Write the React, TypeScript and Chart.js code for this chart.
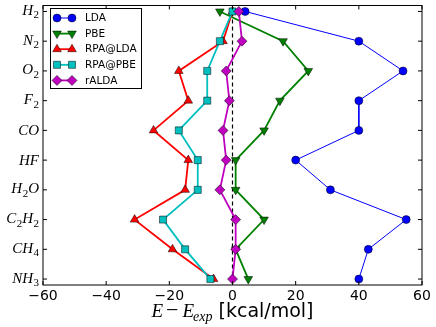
import React, { useEffect, useRef } from 'react';
import { Chart, registerables } from 'chart.js';
import { drawPoint } from 'chart.js/helpers';

Chart.register(...registerables);

const molecules = ['H₂', 'N₂', 'O₂', 'F₂', 'CO', 'HF', 'H₂O', 'C₂H₂', 'CH₄', 'NH₃'];
const seriesNames = ['LDA', 'PBE', 'RPA@LDA', 'RPA@PBE', 'rALDA'];
const lda = [4, 40, 54, 40, 40, 20, 31, 55, 43, 40];
const pbe = [-4, 16, 24, 15, 10, 1, 1, 10, 1, 5];
const rpaLda = [0, -3, -17, -14, -25, -14, -15, -31, -19, -6];
const rpaPbe = [0, -4, -8, -8, -17, -11, -11, -22, -15, -7];
const ralda = [2, 3, -2, -1, -3, -2, -4, 1, 1, 0];
const xTicks = [-60, -40, -20, 0, 20, 40, 60];
const xTitleMath = ['E', '−', 'E'];
const xTitleSub = 'exp';
const xTitleUnit = '[kcal/mol]';

const seriesValues = [lda, pbe, rpaLda, rpaPbe, ralda];
const styles = [
  { color: '#0000ff', shape: 'circle', r: 4, lw: 1, rot: 0 },
  { color: '#008000', shape: 'triangle', r: 5, lw: 1.8, rot: 180 },
  { color: '#ff0000', shape: 'triangle', r: 5, lw: 1.8, rot: 0 },
  { color: '#00bfbf', shape: 'rect', r: 5, lw: 1.8, rot: 0 },
  { color: '#bf00bf', shape: 'rectRot', r: 5, lw: 1.8, rot: 0 },
];

const SUBS: Record<string, string> = { '₀': '0', '₁': '1', '₂': '2', '₃': '3', '₄': '4', '₅': '5', '₆': '6', '₇': '7', '₈': '8', '₉': '9' };
const SERIF = '"Liberation Serif", "DejaVu Serif", serif';
const SANS = '"DejaVu Sans", sans-serif';

function drawMolLabel(ctx: CanvasRenderingContext2D, text: string, xRight: number, y: number) {
  const size = 15;
  const segs: { t: string; sub: boolean }[] = [];
  for (const ch of text) {
    const sub = ch in SUBS;
    const t = sub ? SUBS[ch] : ch;
    const last = segs[segs.length - 1];
    if (last && last.sub === sub) last.t += t;
    else segs.push({ t, sub });
  }
  const mainFont = `italic ${size}px ${SERIF}`;
  const subFont = `${Math.round(size * 0.7)}px ${SERIF}`;
  let total = 0;
  const widths = segs.map((s) => {
    ctx.font = s.sub ? subFont : mainFont;
    const w = ctx.measureText(s.t).width + (s.sub ? 0.5 : 0);
    total += w;
    return w;
  });
  const hasSub = segs.some((s) => s.sub);
  const base = y + (hasSub ? 3.5 : 5);
  let x = xRight - total;
  ctx.fillStyle = '#000';
  ctx.textAlign = 'left';
  ctx.textBaseline = 'alphabetic';
  segs.forEach((s, i) => {
    ctx.font = s.sub ? subFont : mainFont;
    ctx.fillText(s.t, x + (s.sub ? 0.5 : 0), s.sub ? base + 3.5 : base);
    x += widths[i];
  });
}

const decorPlugin = {
  id: 'decor',
  beforeDatasetsDraw(chart: any) {
    const { ctx, chartArea: a, scales } = chart;
    const x0 = scales.x.getPixelForValue(0);
    ctx.save();
    ctx.strokeStyle = '#000';
    ctx.lineWidth = 1.2;
    ctx.setLineDash([4, 3]);
    ctx.beginPath();
    ctx.moveTo(x0, a.top);
    ctx.lineTo(x0, a.bottom);
    ctx.stroke();
    ctx.restore();
  },
  afterDraw(chart: any) {
    const { ctx, chartArea: a, scales } = chart;
    ctx.save();
    // frame
    ctx.strokeStyle = '#000';
    ctx.lineWidth = 1;
    ctx.strokeRect(a.left, a.top, a.right - a.left, a.bottom - a.top);
    // inward ticks
    ctx.beginPath();
    xTicks.forEach((v) => {
      const px = scales.x.getPixelForValue(v);
      ctx.moveTo(px, a.bottom);
      ctx.lineTo(px, a.bottom - 4);
      ctx.moveTo(px, a.top);
      ctx.lineTo(px, a.top + 4);
    });
    molecules.forEach((_, i) => {
      const py = scales.y.getPixelForValue(i);
      ctx.moveTo(a.left, py);
      ctx.lineTo(a.left + 4, py);
      ctx.moveTo(a.right, py);
      ctx.lineTo(a.right - 4, py);
    });
    ctx.stroke();
    // y labels
    molecules.forEach((m, i) => {
      drawMolLabel(ctx, m, a.left - 4, scales.y.getPixelForValue(i));
    });
    // x title
    const mathFont = `italic 19px ${SERIF}`;
    const opFont = `22px ${SERIF}`;
    const subFont = `italic 14px ${SERIF}`;
    const unitFont = `19px ${SANS}`;
    const pieces: { t: string; font: string; dy: number; gapAfter: number }[] = [
      { t: xTitleMath[0], font: mathFont, dy: 0, gapAfter: 3 },
      { t: xTitleMath[1], font: opFont, dy: 0, gapAfter: 4 },
      { t: xTitleMath[2], font: mathFont, dy: 0, gapAfter: -1 },
      { t: xTitleSub, font: subFont, dy: 4.5, gapAfter: 6 },
      { t: xTitleUnit, font: unitFont, dy: 0, gapAfter: 0 },
    ];
    let tw = 0;
    const ws = pieces.map((p) => {
      ctx.font = p.font;
      const w = ctx.measureText(p.t).width;
      tw += w + p.gapAfter;
      return w;
    });
    let tx = (a.left + a.right) / 2 - tw / 2;
    const tb = 316.5;
    ctx.fillStyle = '#000';
    ctx.textAlign = 'left';
    ctx.textBaseline = 'alphabetic';
    pieces.forEach((p, i) => {
      ctx.font = p.font;
      ctx.fillText(p.t, tx, tb + p.dy);
      tx += ws[i] + p.gapAfter;
    });
    // legend
    const lx = 50.5, ly = 8.5, lw = 91, lh = 80;
    ctx.fillStyle = '#fff';
    ctx.fillRect(lx, ly, lw, lh);
    ctx.strokeStyle = '#000';
    ctx.lineWidth = 1;
    ctx.strokeRect(lx, ly, lw, lh);
    seriesNames.forEach((name, i) => {
      const st = styles[i];
      const y = 18 + i * 15.6;
      ctx.strokeStyle = st.color;
      ctx.lineWidth = st.lw;
      ctx.beginPath();
      ctx.moveTo(57, y);
      ctx.lineTo(72, y);
      ctx.stroke();
      ctx.fillStyle = st.color;
      ctx.strokeStyle = '#000';
      ctx.lineWidth = 0.5;
      [57, 72].forEach((mx) => {
        drawPoint(ctx, { pointStyle: st.shape, radius: st.r, rotation: st.rot, borderWidth: 0.5 } as any, mx, y);
      });
      ctx.fillStyle = '#000';
      ctx.font = `10.5px ${SANS}`;
      ctx.textBaseline = 'middle';
      ctx.fillText(name, 85, y + 0.5);
    });
    ctx.restore();
  },
};

export default function App() {
  const ref = useRef<HTMLCanvasElement>(null);
  useEffect(() => {
    if (!ref.current) return;
    const datasets = seriesNames.map((name, i) => ({
      label: name,
      data: seriesValues[i].map((v, j) => ({ x: v, y: j })),
      showLine: true,
      borderColor: styles[i].color,
      backgroundColor: styles[i].color,
      borderWidth: styles[i].lw,
      pointStyle: styles[i].shape,
      pointRadius: styles[i].r,
      pointRotation: styles[i].rot,
      pointBackgroundColor: styles[i].color,
      pointBorderColor: '#000',
      pointBorderWidth: 0.5,
      order: 4 - i,
    }));
    const chart = new Chart(ref.current, {
      type: 'scatter',
      data: { datasets },
      options: {
        animation: false,
        responsive: false,
        layout: { padding: { top: 4, right: 14, left: 0, bottom: 0 } },
        plugins: { legend: { display: false }, tooltip: { enabled: false } },
        scales: {
          x: {
            type: 'linear',
            min: -60,
            max: 60,
            grid: { display: false, drawTicks: false },
            border: { display: false },
            afterFit: (s: any) => { s.height = 42; },
            afterBuildTicks: (s: any) => { s.ticks = xTicks.map((v) => ({ value: v })); },
            ticks: {
              padding: 3,
              color: '#000',
              font: { family: 'DejaVu Sans', size: 14 },
              callback: (v: any) => (v < 0 ? '−' + Math.abs(v) : String(v)),
            },
          },
          y: {
            type: 'linear',
            min: -0.2,
            max: 9.2,
            reverse: true,
            grid: { display: false, drawTicks: false },
            border: { display: false },
            ticks: { display: false },
            afterFit: (s: any) => { s.width = 43; },
          },
        },
      },
      plugins: [decorPlugin],
    });
    return () => chart.destroy();
  }, []);
  return (
    <div style={{ position: 'absolute', left: 0, top: 0, width: 436, height: 327, background: '#fff' }}>
      <canvas ref={ref} width={436} height={327} style={{ display: 'block' }} />
    </div>
  );
}
